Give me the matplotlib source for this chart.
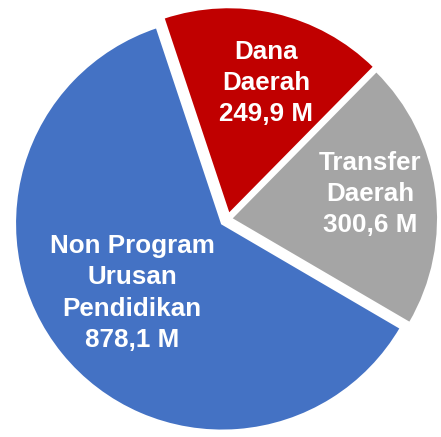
import numpy as np
import matplotlib.pyplot as plt

# Data
labels = ['Dana\nDaerah', 'Transfer\nDaerah', 'Non Program\nUrusan\nPendidikan']
values = [249.9, 300.6, 878.1]
colors = ['#C00000', '#A5A5A5', '#4472C4']
explode_px = [4.9, 3.4, 7.3]

W, H = 441, 437
R = 207.0
center = (227.7, 218.0)

fig = plt.figure(figsize=(W / 100, H / 100), dpi=100)
ax = fig.add_axes([0, 0, 1, 1])

# explode is in data units here (pixels)
wedges, _ = ax.pie(values, colors=colors, startangle=108.4, counterclock=False,
                   radius=R, center=center, explode=explode_px,
                   wedgeprops=dict(edgecolor='white', linewidth=1.5))

ax.set_xlim(0, W)
ax.set_ylim(0, H)
ax.set_aspect('equal')
ax.axis('off')

# labels, placed in pixel positions (image y measured from top)
label_pos = [(266, 83), (370, 194), (132, 293)]
for lab, v, (x, y) in zip(labels, values, label_pos):
    txt = lab + '\n' + ('%.1f' % v).replace('.', ',') + ' M'
    ax.text(x, H - y, txt, ha='center', va='center', color='white',
            fontsize=18.7, fontweight='bold', family='Liberation Sans',
            linespacing=1.38)

fig.savefig('out.png', dpi=100)
